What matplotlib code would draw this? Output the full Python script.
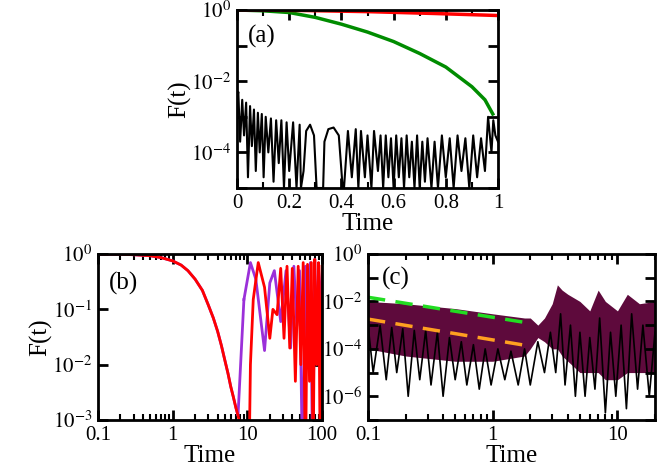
import math
import matplotlib.pyplot as plt
import matplotlib.ticker as mticker

plt.rcParams['font.family'] = 'Liberation Serif'
plt.rcParams['mathtext.fontset'] = 'stix'

# ---- panel (a) data ----
a_red_t = [0.0, 0.25, 0.5, 0.75, 1.0]
a_red_f = [1.0, 0.97, 0.9, 0.8, 0.7]
a_green_t = [0.0, 0.1, 0.2, 0.3, 0.4, 0.5, 0.6, 0.7, 0.8, 0.9, 0.95, 0.98]
a_green_f = [1.0, 0.95, 0.85, 0.62, 0.4, 0.24, 0.13, 0.06, 0.025, 0.007, 0.003, 0.0012]
a_blk_t = [0.0, 0.005, 0.012, 0.02, 0.027, 0.035, 0.042, 0.05, 0.057, 0.065, 0.072, 0.08, 0.087,
           0.095, 0.102, 0.11, 0.12, 0.13, 0.14, 0.15, 0.16, 0.17, 0.18, 0.19, 0.2, 0.215, 0.228,
           0.24, 0.245, 0.255, 0.265, 0.28, 0.295, 0.305, 0.31, 0.33, 0.335, 0.35, 0.37, 0.39,
           0.405, 0.41, 0.425, 0.44, 0.455, 0.465, 0.475, 0.49, 0.5,
           0.515, 0.525, 0.54, 0.55, 0.56, 0.57, 0.58, 0.59, 0.6, 0.61, 0.62, 0.63, 0.64, 0.65, 0.66,
           0.67, 0.68, 0.69, 0.70, 0.71, 0.72, 0.73, 0.745, 0.757, 0.77, 0.785, 0.8, 0.815, 0.83,
           0.845, 0.86, 0.875, 0.89, 0.905, 0.92, 0.935, 0.95, 0.962, 0.975, 0.982, 0.99, 1.0]
a_blk_f = [3e-3, 5e-3, 2e-4, 3e-3, 3e-4, 2.5e-3, 2e-5, 2e-3, 1.5e-4, 1.6e-3, 3e-5, 1.3e-3, 1e-4,
           1.2e-3, 2e-5, 1e-3, 1e-4, 9e-4, 1.5e-5, 8e-4, 5e-5, 8e-4, 1e-5, 7e-4, 3e-5, 7e-4, 1e-5,
           6e-4, 1e-5, 3e-5, 4e-4, 6e-4, 3e-4, 1e-5, 1e-5, 1e-5, 2e-4, 4.5e-4, 5e-4, 3e-4,
           1e-5, 1e-5, 4e-4, 2e-5, 4.5e-4, 1e-5, 4e-4, 2e-5, 3e-4,
           1e-5, 4e-4, 3e-5, 3e-4, 1e-5, 3e-4, 2e-5, 2.5e-4, 1e-5, 3e-4, 2e-5, 2.5e-4, 1e-5, 3e-4,
           2e-5, 2e-4, 1e-5, 3e-4, 1e-5, 2e-4, 1.5e-5, 2.5e-4, 1e-5, 2e-4, 1e-5, 3e-4, 2e-5, 2.5e-4,
           1e-5, 3e-4, 3e-5, 2.5e-4, 1e-5, 3e-4, 2e-5, 2.5e-4, 3e-5, 1e-3, 1e-4, 8e-4, 3e-4, 2e-4]

# ---- panel (b) data ----
b_decay_t = [0.1, 0.2, 0.3, 0.5, 0.7, 1.0, 1.3, 1.6, 2.0, 2.5, 3.0, 3.5, 4.0, 4.5, 5.0, 5.5,
             6.0, 6.5, 7.0, 7.5]
b_decay_f = [1.0, 0.99, 0.97, 0.93, 0.86, 0.75, 0.63, 0.5, 0.35, 0.22, 0.12, 0.07, 0.04, 0.022,
             0.012, 0.007, 0.004, 0.0026, 0.0017, 0.0012]
b_red_t = [7.9, 8.0, 10.5, 11.0, 12.0, 14.0, 17.0, 20.0, 22.0, 25.0, 28.0, 31.0, 34.0, 37.0,
           40.0, 44.0, 48.0, 52.0, 56.0, 60.0, 64.0, 68.0, 72.0, 76.0, 80.0, 85.0, 90.0, 95.0, 100.0]
b_red_f = [0.0009, 1e-4, 1e-4, 0.01, 0.15, 0.7, 0.25, 0.03, 0.1, 0.08, 0.55, 0.03, 0.6, 0.02,
           0.55, 0.005, 0.6, 0.01, 0.7, 1e-4, 0.65, 0.005, 0.7, 1e-4, 0.8, 0.01, 0.7, 1e-4, 0.6]
b_pur_t = [9.0, 11.0, 13.0, 17.0, 20.0, 23.0, 28.0, 33.0, 38.0, 42.0,
           46.0, 50.0, 55.0, 60.0, 65.0, 70.0, 75.0, 80.0, 85.0, 90.0, 100.0]
b_pur_f = [0.15, 0.7, 0.35, 0.018, 0.3, 0.5, 0.06, 0.5, 0.02,
           0.6, 0.05, 0.5, 1e-4, 0.6, 0.03, 0.7, 1e-4, 0.8, 0.02, 0.5, 0.1]

# ---- panel (c) data ----
c_env_t = [0.1, 0.2, 0.5, 1.0, 1.8, 2.0, 2.3, 2.6, 3.0, 3.3, 3.6, 4.0, 5.0, 6.0, 7.0, 8.0, 10.0,
           12.0, 15.0, 20.0]
c_env_hi = [1e-2, 8e-3, 5e-3, 3e-3, 2e-3, 2e-3, 1e-3, 2e-3, 8e-3, 5e-2, 3e-2, 2e-2, 1e-2, 4e-3,
            3e-2, 1e-2, 4e-3, 2e-2, 8e-3, 1e-2]
c_env_lo = [1e-4, 5e-5, 3e-5, 3e-5, 5e-5, 1e-4, 3e-4, 2e-4, 1e-4, 1e-4, 5e-5, 3e-5, 1e-5, 1e-5,
            1e-5, 5e-6, 5e-6, 1e-5, 1e-5, 1e-5]
c_blk_t = [0.1, 0.11, 0.125, 0.14, 0.155, 0.17, 0.19, 0.21, 0.235, 0.26, 0.29, 0.32, 0.36, 0.4,
           0.45, 0.5, 0.56, 0.62, 0.7, 0.78, 0.87, 0.97, 1.1, 1.25, 1.4, 1.6, 1.8, 2.0, 2.3, 2.6,
           2.9, 3.2, 3.5, 3.8, 4.2, 4.6, 5.0, 5.5, 6.0, 6.6, 7.2, 8.0, 8.8, 9.7, 10.7, 11.8, 13.0,
           14.5, 16.0, 18.0, 20.0]
c_blk_f = [1e-3, 1e-5, 1e-3, 5e-6, 8e-4, 1e-5, 7e-4, 1e-6, 6e-4, 5e-6, 6e-4, 3e-6, 5e-4, 1e-6,
           3e-4, 5e-6, 2e-4, 3e-6, 1.5e-4, 2e-6, 1e-4, 3e-6, 1e-4, 5e-6, 8e-5, 3e-6, 1e-4, 3e-6,
           2e-4, 1e-5, 5e-4, 1e-5, 3e-3, 3e-6, 1e-3, 1e-6, 5e-4, 1e-6, 3e-4, 2e-6, 2e-3, 2e-7,
           5e-4, 1e-6, 1e-3, 3e-7, 3e-3, 2e-6, 1e-3, 1e-6, 5e-4]
c_green_t = [0.1, 2.0]
c_green_f = [1.5e-2, 1.2e-3]
c_orange_t = [0.1, 2.0]
c_orange_f = [1.8e-3, 1.3e-4]

fig = plt.figure(figsize=(6.57, 4.7), dpi=100)
W, H = 657, 470


def box(x0, y0, x1, y1):
    return fig.add_axes([x0 / W, 1 - y1 / H, (x1 - x0) / W, (y1 - y0) / H])


def style(ax):
    for s in ax.spines.values():
        s.set_linewidth(2)
    ax.tick_params(which='both', direction='in', top=True, right=True, labelsize=15)
    ax.tick_params(which='major', length=7, width=2, pad=4)
    ax.tick_params(which='minor', length=4, width=1.5)


def decade_labels(ax, show):
    ax.yaxis.set_major_locator(mticker.LogLocator(base=10, numticks=20))
    ax.yaxis.set_major_formatter(mticker.FuncFormatter(
        lambda v, p: r'$10^{%d}$' % round(math.log10(v)) if round(math.log10(v)) in show else ''))
    ax.yaxis.set_minor_locator(mticker.NullLocator())


# (a)
ax = box(237, 10, 498, 188)
ax.plot(a_blk_t, a_blk_f, color='black', lw=1.5)
ax.plot(a_green_t, a_green_f, color='#008c00', lw=2.5)
ax.plot(a_red_t, a_red_f, color='red', lw=2.5)
ax.set_yscale('log')
ax.set_xlim(0, 1)
ax.set_ylim(1e-5, 1)
ax.set_xticks([0, 0.2, 0.4, 0.6, 0.8, 1])
ax.set_xticklabels(['0', '0.2', '0.4', '0.6', '0.8', '1'])
ax.xaxis.set_minor_locator(mticker.MultipleLocator(0.1))
decade_labels(ax, [0, -2, -4])
style(ax)
ax.set_xlabel('Time', fontsize=18, labelpad=0)
ax.set_ylabel('F(t)', fontsize=18, labelpad=0)
ax.text(0.04, 0.85, '(a)', transform=ax.transAxes, fontsize=18, va='center')

# (b)
ax = box(98, 254, 322, 420)
ax.plot(b_decay_t + [9.0], b_decay_f + [0.15], color='#9b30d9', lw=2)
ax.plot(b_pur_t, b_pur_f, color='#9b30d9', lw=2)
ax.plot(b_decay_t + b_red_t, b_decay_f + b_red_f, color='red', lw=2)
ax.set_xscale('log')
ax.set_yscale('log')
ax.set_xlim(0.1, 100)
ax.set_ylim(1e-3, 1)
ax.set_xticks([0.1, 1, 10, 100])
ax.set_xticklabels(['0.1', '1', '10', '100'])
decade_labels(ax, [0, -1, -2, -3])
style(ax)
ax.set_xlabel('Time', fontsize=18, labelpad=0)
ax.set_ylabel('F(t)', fontsize=18, labelpad=0)
ax.text(0.05, 0.82, '(b)', transform=ax.transAxes, fontsize=18, va='center')

# (c)
ax = box(368, 254, 655, 420)
ax.fill_between(c_env_t, c_env_lo, c_env_hi, color='#5e0a3c', lw=0)
ax.plot(c_blk_t, c_blk_f, color='black', lw=1.2)
ax.plot(c_green_t, c_green_f, color='#22dd22', lw=2.5, ls=(0, (5, 3)))
ax.plot(c_orange_t, c_orange_f, color='#ffa020', lw=2.5, ls=(0, (5, 3)))
ax.set_xscale('log')
ax.set_yscale('log')
ax.set_xlim(0.1, 20)
ax.set_ylim(1e-7, 1)
ax.set_xticks([0.1, 1, 10])
ax.set_xticklabels(['0.1', '1', '10'])
decade_labels(ax, [0, -2, -4, -6])
style(ax)
ax.set_xlabel('Time', fontsize=18, labelpad=0)
ax.text(0.05, 0.85, '(c)', transform=ax.transAxes, fontsize=18, va='center')

plt.savefig('out.png', dpi=100)
